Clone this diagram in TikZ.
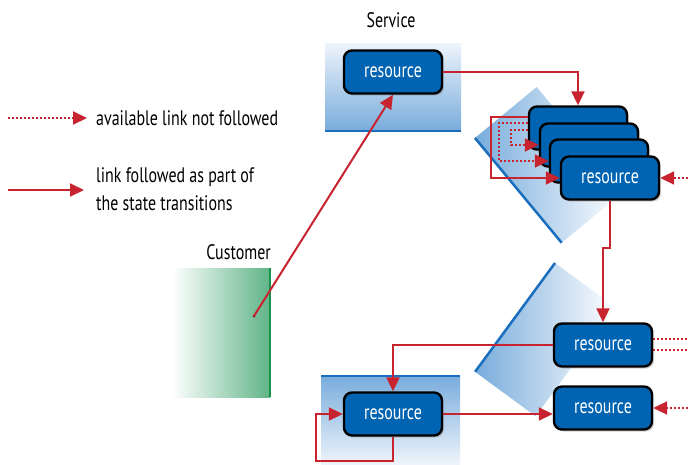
\documentclass[tikz,border=0pt]{standalone}
\usepackage{fontspec}
\setmainfont{PT Sans}[FakeStretch=0.76]
\usetikzlibrary{arrows.meta,shadows}
\definecolor{linkred}{RGB}{200,36,48}
\definecolor{resblue}{RGB}{0,100,178}
\definecolor{edgeblue}{RGB}{25,110,190}
\definecolor{shadeblue}{RGB}{120,172,220}
\definecolor{paleblue}{RGB}{238,244,251}
\definecolor{custgreen}{RGB}{95,180,135}
\definecolor{edgegreen}{RGB}{25,145,75}
\begin{document}
\begin{tikzpicture}[x=1pt,y=-1pt,
  res/.style={draw=black, line width=2.4pt, fill=resblue, rounded corners=8pt,
    minimum width=98pt, minimum height=43pt, text=white, inner sep=0pt,
    font=\fontsize{21}{24}\selectfont,
    drop shadow={shadow xshift=2pt,shadow yshift=-2pt,opacity=0.35}},
  lab/.style={font=\fontsize{21}{28}\selectfont, inner sep=0pt},
  link/.style={draw=linkred, line width=2pt, -{Triangle[length=14pt,width=13pt]}},
  dlink/.style={link, dash pattern=on 2pt off 2pt},
  dline/.style={draw=linkred, line width=2pt, dash pattern=on 2pt off 2pt},
  edge/.style={line width=2.5pt, edgeblue}]
\useasboundingbox (0,0) rectangle (688,464);
\fill[white] (0,0) rectangle (688,464);
% shaded areas
\shade[top color=paleblue, bottom color=shadeblue] (325,43) rectangle (461,131);
\draw[edge] (325,131) -- (461,131);
\shade[top color=shadeblue, bottom color=paleblue] (321,376) rectangle (460,464);
\draw[edge] (321,376) -- (460,376);
\begin{scope}[shift={(475,138)}, rotate=39.6]
  \shade[left color=shadeblue, right color=white] (0,0) rectangle (80,136);
  \draw[edge] (0,0) -- (0,136);
\end{scope}
\begin{scope}[shift={(555,263)}, rotate=-36.3]
  \shade[left color=shadeblue, right color=white] (0,0) rectangle (75,135);
  \draw[edge] (0,0) -- (0,135);
\end{scope}
\shade[left color=white, right color=custgreen] (172,268) rectangle (270,397);
\draw[line width=2.5pt, edgegreen] (270,268) -- (270,397);
% labels
\node[lab] (service) at (391,20) {Service};
\node[lab, anchor=east] (customer) at (271,252) {Customer};
\node[lab, anchor=west] (l1) at (96,118) {available link not followed};
\node[lab, anchor=west, align=left] (l2) at (96,189) {link followed as part of\\the state transitions};
% resources
\node[res] (r1) at (393,72) {resource};
\node[res] (s1) at (578,128) {};
\node[res] (s2) at (589,145) {};
\node[res] (s3) at (599,161) {};
\node[res] (s4) at (610,178) {resource};
\node[res] (rm) at (603,345) {resource};
\node[res] (rl) at (603,408) {resource};
\node[res] (rb) at (393,414) {resource};
% legend connectors
\coordinate (d0) at (8,118);
\coordinate (d1) at (87,118);
\coordinate (f0) at (8,190);
\coordinate (f1) at (84,190);
\draw[dlink] (d0) -- (d1);
\draw[link] (f0) -- (f1);
% links
\coordinate (cust) at (254,316);
\fill[linkred!70!black] (cust) circle (1.5pt);
\draw[link] (cust) -- (r1.south);
\draw[link] (r1.east) -| (s1.north);
\draw[link] ([yshift=11pt]s1.west) -- ++(-37,0) |- (s4.west);
\draw[dlink] ([yshift=5pt]s1.west) -- ++(-29,0) |- (s3.west);
\draw[dlink] ([yshift=-2pt]s1.west) -- ++(-17,0) |- (s2.west);
\coordinate (e1) at (688,178);
\draw[dlink] (e1) -- (s4.east);
\draw[link] (s4.south) -- ++(0,47) -| (rm.north);
\draw[link] (rm.west) -| (rb.north);
\coordinate (e2) at (688,339);
\coordinate (e3) at (688,350);
\draw[dline] (rm.east |- e2) -- (e2);
\draw[dline] (rm.east |- e3) -- (e3);
\coordinate (e4) at (688,408);
\draw[dlink] (e4) -- (rl.east);
\draw[link] (rb.east) -- (rb.east -| rl.west);
\draw[link] (rb.south) -- ++(0,24) -| ([xshift=-27pt]rb.west) -- (rb.west);
\end{tikzpicture}
\end{document}
